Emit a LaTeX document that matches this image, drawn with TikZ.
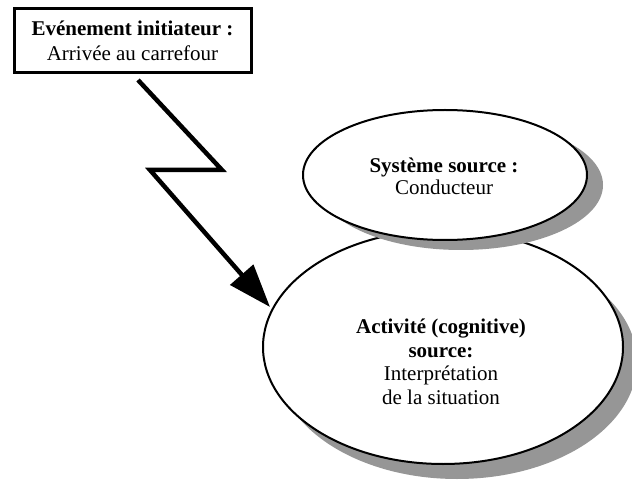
\documentclass[tikz,border=0pt]{standalone}
\usepackage{fontspec}
\setmainfont{Liberation Serif}
\usetikzlibrary{arrows.meta,shadows,calc,shapes.geometric}
\definecolor{shadowgray}{RGB}{150,150,150}
\begin{document}
\begin{tikzpicture}[x=1pt,y=-1pt,
  txt/.style={font=\fontsize{21}{23}\selectfont, align=center, inner sep=0pt},
  evbox/.style={draw, line width=3pt, fill=white, minimum width=237pt, minimum height=64pt, inner sep=0pt, outer sep=0pt},
  ellbase/.style={ellipse, draw, line width=2pt, fill=white, inner sep=0pt, outer sep=0pt},
  zig/.style={line width=4.5pt, line join=miter, -{Triangle[length=43pt,width=30pt]}}
]
\clip (0,0) rectangle (632,481);
\fill[white] (0,0) rectangle (632,481);

% large ellipse (drawn first, lies behind)
\node[ellbase, minimum width=360pt, minimum height=234pt,
  drop shadow={shadow xshift=14pt, shadow yshift=-15pt, fill=shadowgray, opacity=1}]
  (act) at (443,347) {};
\node[txt, font=\fontsize{21}{23.5}\selectfont] (acttxt) at (441,362)
  {\textbf{Activité (cognitive)}\\ \textbf{source:}\\ Interprétation\\ de la situation};

% small ellipse
\node[ellbase, minimum width=284pt, minimum height=130pt,
  drop shadow={shadow xshift=16pt, shadow yshift=-10pt, fill=shadowgray, opacity=1}]
  (sys) at (445,175) {};
\node[txt, font=\fontsize{21}{22}\selectfont] (systxt) at (444,176)
  {\textbf{Système source :}\\ Conducteur};

% event box
\node[evbox, txt, font=\fontsize{21}{25}\selectfont, inner sep=0pt] (ev) at (132.5,41)
  {\textbf{Evénement initiateur :}\\ Arrivée au carrefour};

% zigzag connector
\coordinate (z0) at (138,80);
\coordinate (z1) at (222,170);
\coordinate (z2) at (150,170);
\coordinate (tip) at (270,307);
\draw[zig] (z0) -- (z1) -- (z2) -- (tip);
\end{tikzpicture}
\end{document}
